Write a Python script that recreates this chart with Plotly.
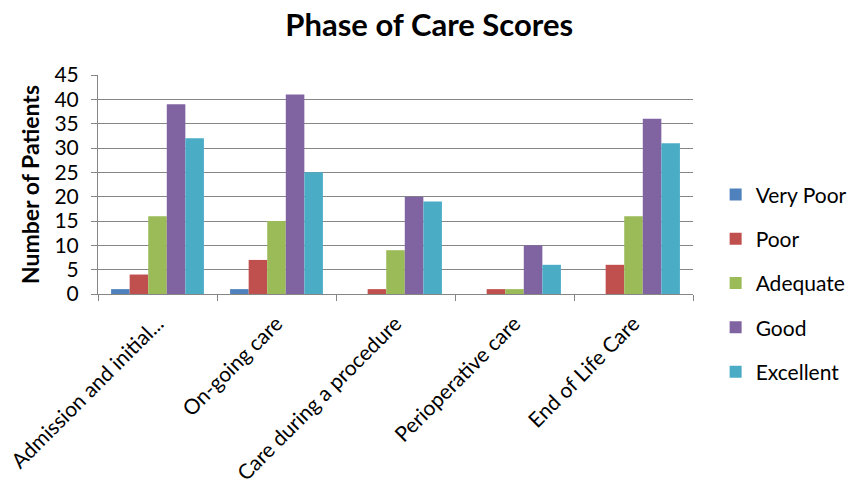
import plotly.graph_objects as go

categories = ["Admission and initial...", "On-going care", "Care during a procedure",
              "Perioperative care", "End of Life Care"]
series_names = ["Very Poor", "Poor", "Adequate", "Good", "Excellent"]
very_poor = [1, 1, 0, 0, 0]
poor = [4, 7, 1, 1, 6]
adequate = [16, 15, 9, 1, 16]
good = [39, 41, 20, 10, 36]
excellent = [32, 25, 19, 6, 31]
colors = ["#4F81BD", "#C0504D", "#9BBB59", "#8064A2", "#4BACC6"]
y_ticks = list(range(0, 50, 5))

FONT = "Lato, 'Open Sans', sans-serif"

fig = go.Figure()
for i, (name, vals) in enumerate(zip(series_names,
                                     [very_poor, poor, adequate, good, excellent])):
    fig.add_trace(go.Bar(
        x=categories, y=vals, name=name, marker_color=colors[i],
        marker_line_width=0, legendgroup=name,
    ))

fig.update_layout(
    width=855, height=497,
    margin=dict(l=98, r=162, t=75, b=203, autoexpand=False),
    paper_bgcolor="white", plot_bgcolor="white",
    barmode="group", bargap=0.22, bargroupgap=0,
    font=dict(family=FONT, size=21, color="black"),
    title=dict(text="<b>Phase of Care Scores</b>", x=0.502, xanchor="center",
               y=0.95, yanchor="middle",
               font=dict(family=FONT, size=31, color="black")),
    legend=dict(xref="container", yref="container", x=0.837, xanchor="left",
                y=0.43, yanchor="middle",
                font=dict(family=FONT, size=21), tracegroupgap=14,
                itemwidth=30, bgcolor="rgba(0,0,0,0)"),
    showlegend=True,
)
fig.update_xaxes(
    type="category", tickangle=-45, showgrid=False, automargin=False,
    showline=True, linecolor="#868686", linewidth=1,
    ticks="outside", tickson="boundaries", ticklen=6, tickcolor="#868686",
    ticklabelstandoff=8,
    tickfont=dict(family=FONT, size=21),
)
fig.update_yaxes(
    range=[0, 45], tickvals=y_ticks, showgrid=True, gridcolor="#868686",
    gridwidth=1, zeroline=False, showline=True, linecolor="#868686", linewidth=1,
    ticks="outside", ticklen=6, tickcolor="#868686", automargin=False,
    ticklabelstandoff=8,
    tickfont=dict(family=FONT, size=21),
    title=dict(text="<b>Number of Patients</b>", standoff=8,
               font=dict(family=FONT, size=23)),
)

fig.write_html("out.html")
